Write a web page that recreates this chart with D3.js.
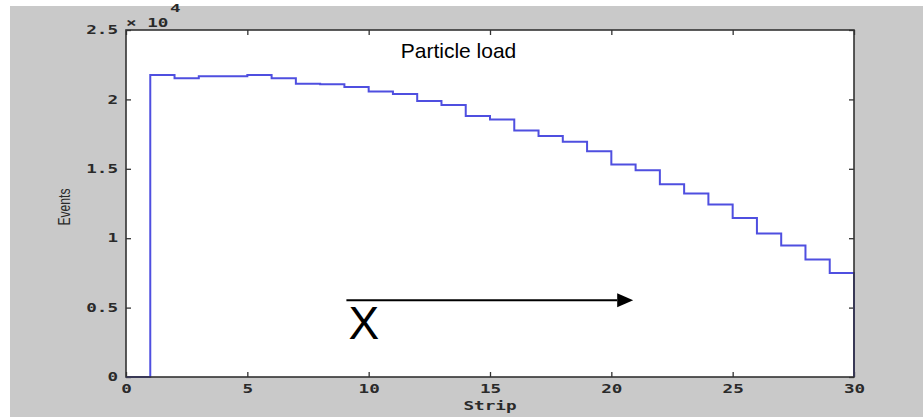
<!DOCTYPE html>
<html>
<head>
<meta charset="utf-8">
<script src="https://cdn.jsdelivr.net/npm/d3@7"></script>
<style>
  html, body { margin: 0; padding: 0; background: #ffffff; }
  svg { display: block; }
</style>
</head>
<body>
<svg id="chart" width="923" height="417"></svg>
<script>
// ---- data ----
const strips = [1,2,3,4,5,6,7,8,9,10,11,12,13,14,15,16,17,18,19,20,21,22,23,24,25,26,27,28,29];
const events = [21750,21530,21670,21670,21750,21530,21120,21100,20900,20570,20390,19890,19600,18810,18550,17760,17370,16940,16270,15310,14900,13890,13220,12420,11460,10330,9470,8460,7500];
const xTicks = [0,5,10,15,20,25,30];
const yTicks = [0,5000,10000,15000,20000,25000];
const title = "Particle load";
const xLabel = "Strip";
const yLabel = "Events";
const arrowLabel = "X";
const arrowFrom = [9, 5530];
const arrowTo = [20.9, 5530];

(function () {
// ---- layout ----
const svg = d3.select("#chart");
const W = 923, H = 417;
const pL = 126, pR = 854, pT = 30, pB = 377;
const charW = 10.6;

svg.append("rect").attr("x", 10).attr("y", 6).attr("width", W - 10).attr("height", H - 6).attr("fill", "#c9c9c9");

const x = d3.scaleLinear().domain([0, 30]).range([pL, pR]);
const y = d3.scaleLinear().domain([0, 25000]).range([pB, pT]);

svg.append("rect").attr("x", pL).attr("y", pT).attr("width", pR - pL).attr("height", pB - pT).attr("fill", "#ffffff");

// step line
const pts = [[0, 0], [strips[0], 0]];
strips.forEach((s, i) => pts.push([s, events[i]]));
pts.push([strips[strips.length - 1] + 1, events[events.length - 1]]);
pts.push([strips[strips.length - 1] + 1, 0]);
const line = d3.line().x(d => x(d[0])).y(d => y(d[1])).curve(d3.curveStepAfter);

const axisColor = "#333333";
const tickFont = "'DejaVu Sans Mono', monospace";
const stretch = sel => sel.attr("textLength", function () { return this.textContent.length * charW; })
  .attr("lengthAdjust", "spacingAndGlyphs");

// axes (ticks inside)
const gx = svg.append("g").attr("transform", `translate(0,${pB})`)
  .call(d3.axisBottom(x).tickValues(xTicks).tickSizeInner(-5).tickSizeOuter(0).tickPadding(8).tickFormat(d3.format("d")));
const gxTop = svg.append("g").attr("transform", `translate(0,${pT})`)
  .call(d3.axisTop(x).tickValues(xTicks).tickSizeInner(-5).tickSizeOuter(0).tickFormat(""));
const gy = svg.append("g").attr("transform", `translate(${pL},0)`)
  .call(d3.axisLeft(y).tickValues(yTicks).tickSizeInner(-5).tickSizeOuter(0).tickPadding(8).tickFormat(d => d3.format("")(d / 10000)));
const gyR = svg.append("g").attr("transform", `translate(${pR},0)`)
  .call(d3.axisRight(y).tickValues(yTicks).tickSizeInner(-5).tickSizeOuter(0).tickFormat(""));

[gx, gxTop, gy, gyR].forEach(g => {
  g.select(".domain").remove();
  g.selectAll(".tick line").attr("stroke", axisColor).attr("stroke-width", 1.3);
  g.selectAll(".tick text").attr("fill", "#2a2a2a").attr("font-family", tickFont).attr("font-size", 11.5)
    .attr("font-weight", "bold").call(stretch);
});

svg.append("path").attr("d", line(pts)).attr("fill", "none")
  .attr("stroke", "#4f4fe0").attr("stroke-width", 2);

// box
svg.append("rect").attr("x", pL).attr("y", pT).attr("width", pR - pL).attr("height", pB - pT)
  .attr("fill", "none").attr("stroke", axisColor).attr("stroke-width", 1.6);

// exponent
svg.append("text").attr("x", pL).attr("y", pT - 3)
  .attr("font-family", tickFont).attr("font-size", 11.5).attr("font-weight", "bold").attr("fill", "#2a2a2a")
  .text("\u00d7 10").call(stretch);
svg.append("text").attr("x", pL + 44).attr("y", pT - 18)
  .attr("font-family", tickFont).attr("font-size", 11).attr("font-weight", "bold").attr("fill", "#2a2a2a")
  .text("4").call(stretch);

// labels
svg.append("text").attr("x", x(15)).attr("y", 410).attr("text-anchor", "middle")
  .attr("font-family", tickFont).attr("font-size", 11.5).attr("font-weight", "bold").attr("fill", "#2a2a2a")
  .text(xLabel).call(stretch);
svg.append("text").attr("transform", `translate(70,207) rotate(-90)`).attr("text-anchor", "middle")
  .attr("font-family", "'Liberation Sans', Arial, sans-serif").attr("font-size", 16).attr("fill", "#2a2a2a")
  .attr("textLength", 37).attr("lengthAdjust", "spacingAndGlyphs").text(yLabel);

// title
svg.append("text").attr("x", 458.5).attr("y", 58).attr("text-anchor", "middle")
  .attr("font-family", "'Liberation Sans', Arial, sans-serif").attr("font-size", 21).attr("fill", "#000").text(title);

// arrow annotation
const ax1 = x(arrowFrom[0]) + 2, ax2 = x(arrowTo[0]), ay2 = y(arrowTo[1]);
svg.append("line").attr("x1", ax1).attr("y1", y(arrowFrom[1])).attr("x2", ax2 - 16).attr("y2", ay2)
  .attr("stroke", "#000").attr("stroke-width", 2);
svg.append("path").attr("d", `M${ax2 - 16},${ay2 - 7} L${ax2},${ay2} L${ax2 - 16},${ay2 + 7} Z`).attr("fill", "#000");
svg.append("text").attr("x", ax1 + 2).attr("y", 339)
  .attr("font-family", "'Liberation Sans', Arial, sans-serif").attr("font-size", 46).attr("fill", "#000").text(arrowLabel);
})();
</script>
</body>
</html>
